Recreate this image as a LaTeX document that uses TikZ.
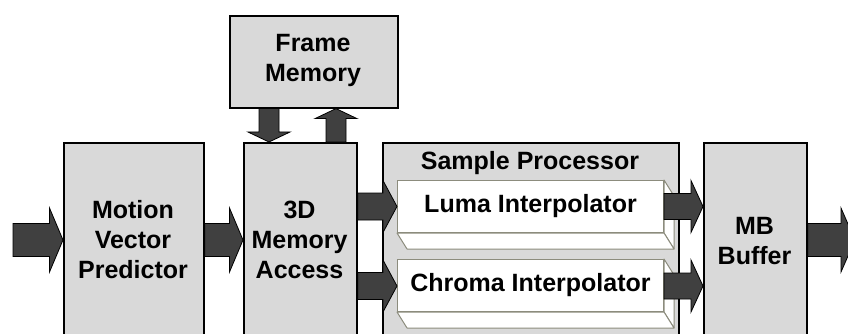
\documentclass[tikz,border=0pt]{standalone}
\usepackage{fontspec}
\setmainfont{Liberation Sans}
\usetikzlibrary{calc}

\definecolor{boxgray}{RGB}{217,217,217}
\definecolor{arrowgray}{RGB}{64,64,64}
\definecolor{cubeedge}{RGB}{140,140,125}

\tikzset{
  block/.style={draw=black, line width=1.6pt, fill=boxgray, inner sep=0pt, anchor=north west},
  caption/.style={font=\fontsize{25}{30}\selectfont\bfseries, align=center, inner sep=0pt},
  fatarrow/.style={fill=arrowgray, draw=black, line width=0.8pt, line join=miter},
  cube/.style={draw=cubeedge, fill=white, line width=1pt, line join=round},
}

% block arrow pointing right: #1 start, #2 tip, #3 shaft half, #4 head half, #5 head length
\newcommand\fatright[5]{%
  \filldraw[fatarrow] let \p1=(#1), \p2=(#2) in
    (\x1,\y1+#3) -- (\x2-#5,\y1+#3) -- (\x2-#5,\y1+#4) -- (\x2,\y1)
    -- (\x2-#5,\y1-#4) -- (\x2-#5,\y1-#3) -- (\x1,\y1-#3) -- cycle;}
% block arrow pointing down
\newcommand\fatdown[5]{%
  \filldraw[fatarrow] let \p1=(#1), \p2=(#2) in
    (\x1-#3,\y1) -- (\x1-#3,\y2+#5) -- (\x1-#4,\y2+#5) -- (\x1,\y2)
    -- (\x1+#4,\y2+#5) -- (\x1+#3,\y2+#5) -- (\x1+#3,\y1) -- cycle;}
% block arrow pointing up
\newcommand\fatup[5]{%
  \filldraw[fatarrow] let \p1=(#1), \p2=(#2) in
    (\x1-#3,\y1) -- (\x1-#3,\y2-#5) -- (\x1-#4,\y2-#5) -- (\x1,\y2)
    -- (\x1+#4,\y2-#5) -- (\x1+#3,\y2-#5) -- (\x1+#3,\y1) -- cycle;}
% extruded white box behind a front face node
\newcommand\cubefaces[1]{%
  \filldraw[cube] (#1.north east) -- ++(10pt,-16pt)
    -- ($(#1.south east)+(10pt,-16pt)$) -- (#1.south east) -- cycle;
  \filldraw[cube] (#1.south west) -- (#1.south east)
    -- ++(10pt,-16pt) -- ($(#1.south west)+(10pt,-16pt)$) -- cycle;}

\begin{document}
\begin{tikzpicture}[x=1pt, y=-1pt]
  \useasboundingbox (0,0) rectangle (848,334);
  \clip (0,0) rectangle (848,334);

  % main blocks
  \node[block, minimum width=168pt, minimum height=92pt] (fm) at (229,15) {};
  \node[block, minimum width=140pt, minimum height=220pt] (mvp) at (63,142) {};
  \node[block, minimum width=113pt, minimum height=220pt] (mem) at (243,142) {};
  \node[block, minimum width=296pt, minimum height=220pt] (sp) at (382,142) {};
  \node[block, minimum width=103pt, minimum height=220pt] (mb) at (703,142) {};

  % block captions
  \node[caption] (fmtxt) at (313,60) {Frame\\Memory};
  \node[caption] (mvptxt) at (133,240) {Motion\\Vector\\Predictor};
  \node[caption] (memtxt) at (299.5,240) {3D\\Memory\\Access};
  \node[caption] (sptxt) at (530,163) {Sample Processor};
  \node[caption] (mbtxt) at (754.5,241) {MB\\Buffer};

  % interpolator cubes
  \node[cube, caption, minimum width=266pt, minimum height=52pt, anchor=north west] (luma) at (397,180) {Luma Interpolator};
  \cubefaces{luma}
  \node[cube, caption, minimum width=266pt, minimum height=52pt, anchor=north west] (chroma) at (397,259) {Chroma Interpolator};
  \cubefaces{chroma}

  % rows and columns of the block arrows
  \coordinate (row) at (0,240);
  \coordinate (rowl) at (0,206.5);
  \coordinate (rowc) at (0,286);
  \coordinate (dcol) at (269,0);
  \coordinate (ucol) at (336,0);
  \coordinate (in) at (13,240);
  \coordinate (out) at (855,240);

  % data flow
  \fatright{in}{mvp.west |- row}{16.5pt}{32pt}{13.5pt}
  \fatright{mvp.east |- row}{mem.west |- row}{16.5pt}{32pt}{13.5pt}
  \fatright{mem.east |- rowl}{luma.west |- rowl}{13.5pt}{26pt}{14pt}
  \fatright{mem.east |- rowc}{chroma.west |- rowc}{13.5pt}{26pt}{14pt}
  \fatright{luma.east |- rowl}{mb.west |- rowl}{13pt}{26pt}{12pt}
  \fatright{chroma.east |- rowc}{mb.west |- rowc}{13pt}{26pt}{12pt}
  \fatright{mb.east |- row}{out}{16.5pt}{32pt}{14pt}
  \fatdown{fm.south -| dcol}{mem.north -| dcol}{10pt}{21pt}{10pt}
  \fatup{mem.north -| ucol}{fm.south -| ucol}{10pt}{21pt}{10pt}
\end{tikzpicture}
\end{document}
